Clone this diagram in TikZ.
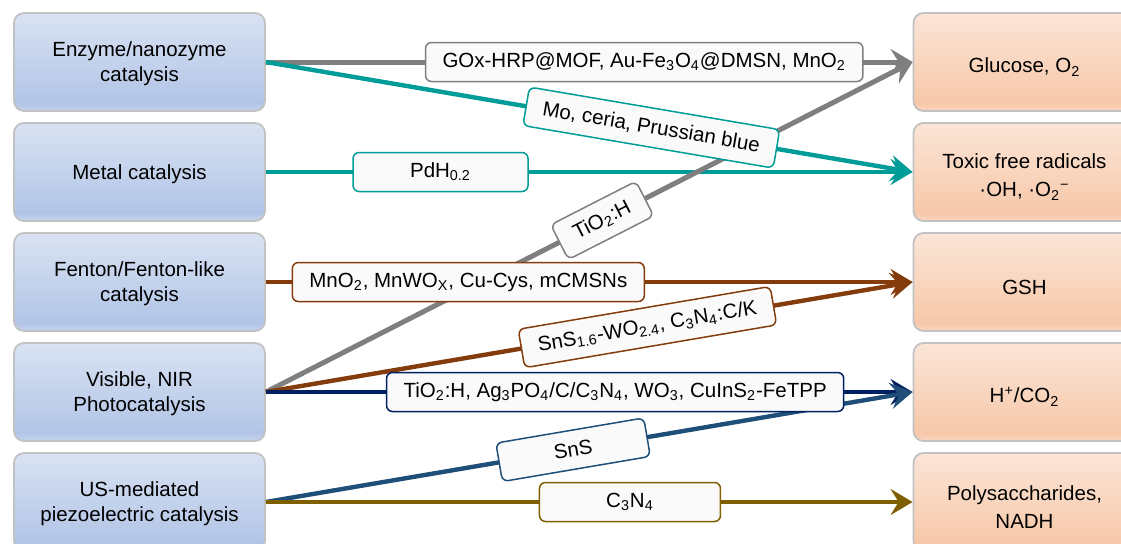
\documentclass[tikz,border=0pt]{standalone}
\usepackage{fontspec}
\setmainfont{Liberation Sans}
\usetikzlibrary{arrows.meta}
\definecolor{cGray}{HTML}{7F7F7F}
\definecolor{cTeal}{HTML}{009C97}
\definecolor{cBrown}{HTML}{843C0C}
\definecolor{cNavy}{HTML}{002060}
\definecolor{cBlue}{HTML}{1F4E79}
\definecolor{cOlive}{HTML}{7F6000}
\definecolor{bord}{HTML}{C2C2C2}
\definecolor{labfill}{HTML}{FAFAFA}
\definecolor{lT}{HTML}{D8E2F2}
\definecolor{lB}{HTML}{B2C5E7}
\definecolor{lS}{HTML}{C6D4EE}
\definecolor{rT}{HTML}{FBE5D7}
\definecolor{rB}{HTML}{F7C8A9}
\definecolor{rS}{HTML}{F9D6C0}
\pgfdeclareverticalshading{leftshade}{100bp}{color(0bp)=(lS); color(25bp)=(lS); color(29bp)=(lB); color(75bp)=(lT); color(100bp)=(lT)}
\pgfdeclareverticalshading{rightshade}{100bp}{color(0bp)=(rS); color(25bp)=(rS); color(29bp)=(rB); color(75bp)=(rT); color(100bp)=(rT)}
\newcommand\fsa{\fontsize{10.25}{12.5}\selectfont}
\newcommand\fsb{\fontsize{10.25}{14}\selectfont}
\newcommand\sbs[1]{\textsubscript{#1}}
\newcommand\sps[1]{\textsuperscript{#1}}
\newcommand\dnl{\rule{0pt}{9.5pt}}
\newcommand\dnr{\rule{0pt}{12.5pt}}
\tikzset{
  lbox/.style={rectangle, rounded corners=5pt, draw=bord, line width=0.9pt, shading=leftshade,
    minimum width=125.5pt, minimum height=49pt, align=center, font=\fsa, text=black},
  rbox/.style={rectangle, rounded corners=5pt, draw=bord, line width=0.9pt, shading=rightshade,
    minimum width=111pt, minimum height=49pt, align=center, font=\fsb, text=black},
  lab/.style={rectangle, rounded corners=3pt, fill=labfill, draw=#1, line width=0.75pt,
    minimum height=19.5pt, inner xsep=8.5pt, inner ysep=0pt, font=\fsa, text=black},
  conn/.style={draw=#1, line width=2.2pt, -{Stealth[length=11pt,width=13pt,inset=4pt]}}
}
\begin{document}
\begin{tikzpicture}[x=0.5pt,y=-0.5pt]
\useasboundingbox (0,0) rectangle (1121,543);
\clip (0,0) rectangle (1121,543);
% left boxes
\node[lbox] (L1) at (139.5,62) {\dnl Enzyme/nanozyme\\catalysis};
\node[lbox] (L2) at (139.5,172) {\dnl Metal catalysis};
\node[lbox] (L3) at (139.5,282) {\dnl Fenton/Fenton-like\\catalysis};
\node[lbox] (L4) at (139.5,392) {\dnl Visible, NIR\\Photocatalysis};
\node[lbox] (L5) at (139.5,502) {\dnl US-mediated\\piezoelectric catalysis};
% right boxes
\node[rbox] (R1) at (1024.5,62) {\dnr Glucose, O\sbs{2}};
\node[rbox] (R2) at (1024.5,172) {\dnr Toxic free radicals\\·OH, ·O\sbs{2}\sps{−}};
\node[rbox] (R3) at (1024.5,282) {\dnr GSH};
\node[rbox] (R4) at (1024.5,392) {\dnr H\sps{+}/CO\sbs{2}};
\node[rbox] (R5) at (1024.5,502) {\dnr Polysaccharides,\\NADH};
% connectors
\draw[conn=cGray, line width=2.5pt] (L1.east) -- (R1.west);
\draw[conn=cTeal] (L1.east) -- (R2.west);
\draw[conn=cTeal] (L2.east) -- (R2.west);
\draw[conn=cBrown] (L3.east) -- (R3.west);
\draw[conn=cGray, line width=2.5pt] (L4.east) -- (R1.west);
\draw[conn=cBrown] (L4.east) -- (R3.west);
\draw[conn=cNavy] (L4.east) -- (R4.west);
\draw[conn=cBlue] (L5.east) -- (R4.west);
\draw[conn=cOlive] (L5.east) -- (R5.west);
% labels
\path (L1.east) -- (R1.west) node[lab=cGray, pos=0.585] (t1) {GOx-HRP@MOF, Au-Fe\sbs{3}O\sbs{4}@DMSN, MnO\sbs{2}};
\path (L1.east) -- (R2.west) node[lab=cTeal, pos=0.596, sloped] (t2) {Mo, ceria, Prussian blue};
\path (L2.east) -- (R2.west) node[lab=cTeal, pos=0.27, minimum width=87.5pt] (t3) {PdH\sbs{0.2}};
\path (L4.east) -- (R1.west) node[lab=cGray, pos=0.52, sloped] (t4) {TiO\sbs{2}:H};
\path (L3.east) -- (R3.west) node[lab=cBrown, pos=0.313] (t5) {MnO\sbs{2}, MnWO\sbs{X}, Cu-Cys, mCMSNs};
\path (L4.east) -- (R3.west) node[lab=cBrown, pos=0.59, sloped] (t6) {SnS\sbs{1.6}-WO\sbs{2.4}, C\sbs{3}N\sbs{4}:C/K};
\path (L4.east) -- (R4.west) node[lab=cNavy, pos=0.54] (t7) {TiO\sbs{2}:H, Ag\sbs{3}PO\sbs{4}/C/C\sbs{3}N\sbs{4}, WO\sbs{3}, CuInS\sbs{2}-FeTPP};
\path (L5.east) -- (R4.west) node[lab=cBlue, pos=0.475, sloped, minimum width=75pt] (t8) {SnS};
\path (L5.east) -- (R5.west) node[lab=cOlive, pos=0.563, minimum width=90.5pt] (t9) {C\sbs{3}N\sbs{4}};
\end{tikzpicture}
\end{document}
